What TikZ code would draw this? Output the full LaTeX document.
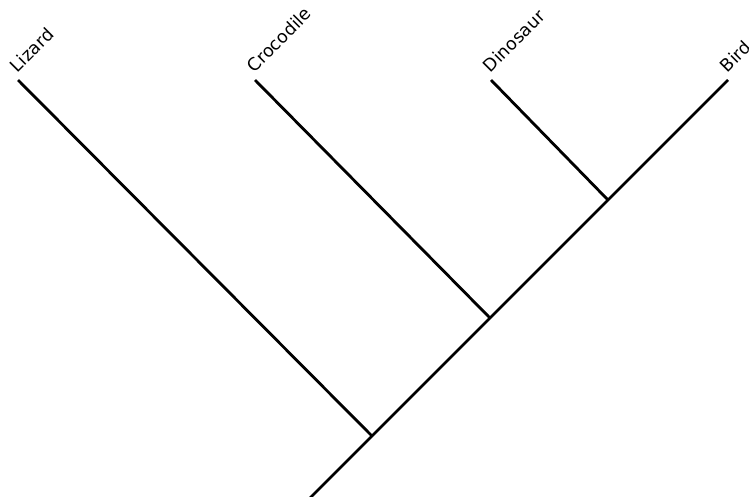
\documentclass[tikz,border=0pt]{standalone}
\usepackage{fontspec}
\setmainfont{DejaVu Sans}
\begin{document}
\begin{tikzpicture}[
			x=1pt, y=-1pt,
			branch/.style={line width=2.8pt, black, line cap=butt},
			taxon/.style={rotate=45, anchor=south west, inner sep=1pt, font=\fontsize{17.5}{20}\selectfont}
			]
			\useasboundingbox (0,0) rectangle (749,496);
			% tips
			\coordinate (lizard) at (18,80);
			\coordinate (croc) at (255,80);
			\coordinate (dino) at (491,80);
			\coordinate (bird) at (728,80);
			% inner splits
			\coordinate (archo) at (372,436);
			\coordinate (dinobird) at (608,200);
			\coordinate (crocbird) at (490,318);
			\coordinate (root) at (308,500);
			\draw[branch] (root) -- (bird);
			\draw[branch] (lizard) -- (archo);
			\draw[branch] (croc) -- (crocbird);
			\draw[branch] (dino) -- (dinobird);
			\node[taxon] (lizardlbl) at ([shift={(0,-5)}]lizard) {Lizard};
			\node[taxon] (croclbl) at ([shift={(0,-5)}]croc) {Crocodile};
			\node[taxon] (dinolbl) at ([shift={(0,-5)}]dino) {Dinosaur};
			\node[taxon] (birdlbl) at ([shift={(0,-5)}]bird) {Bird};
		\end{tikzpicture}
\end{document}
